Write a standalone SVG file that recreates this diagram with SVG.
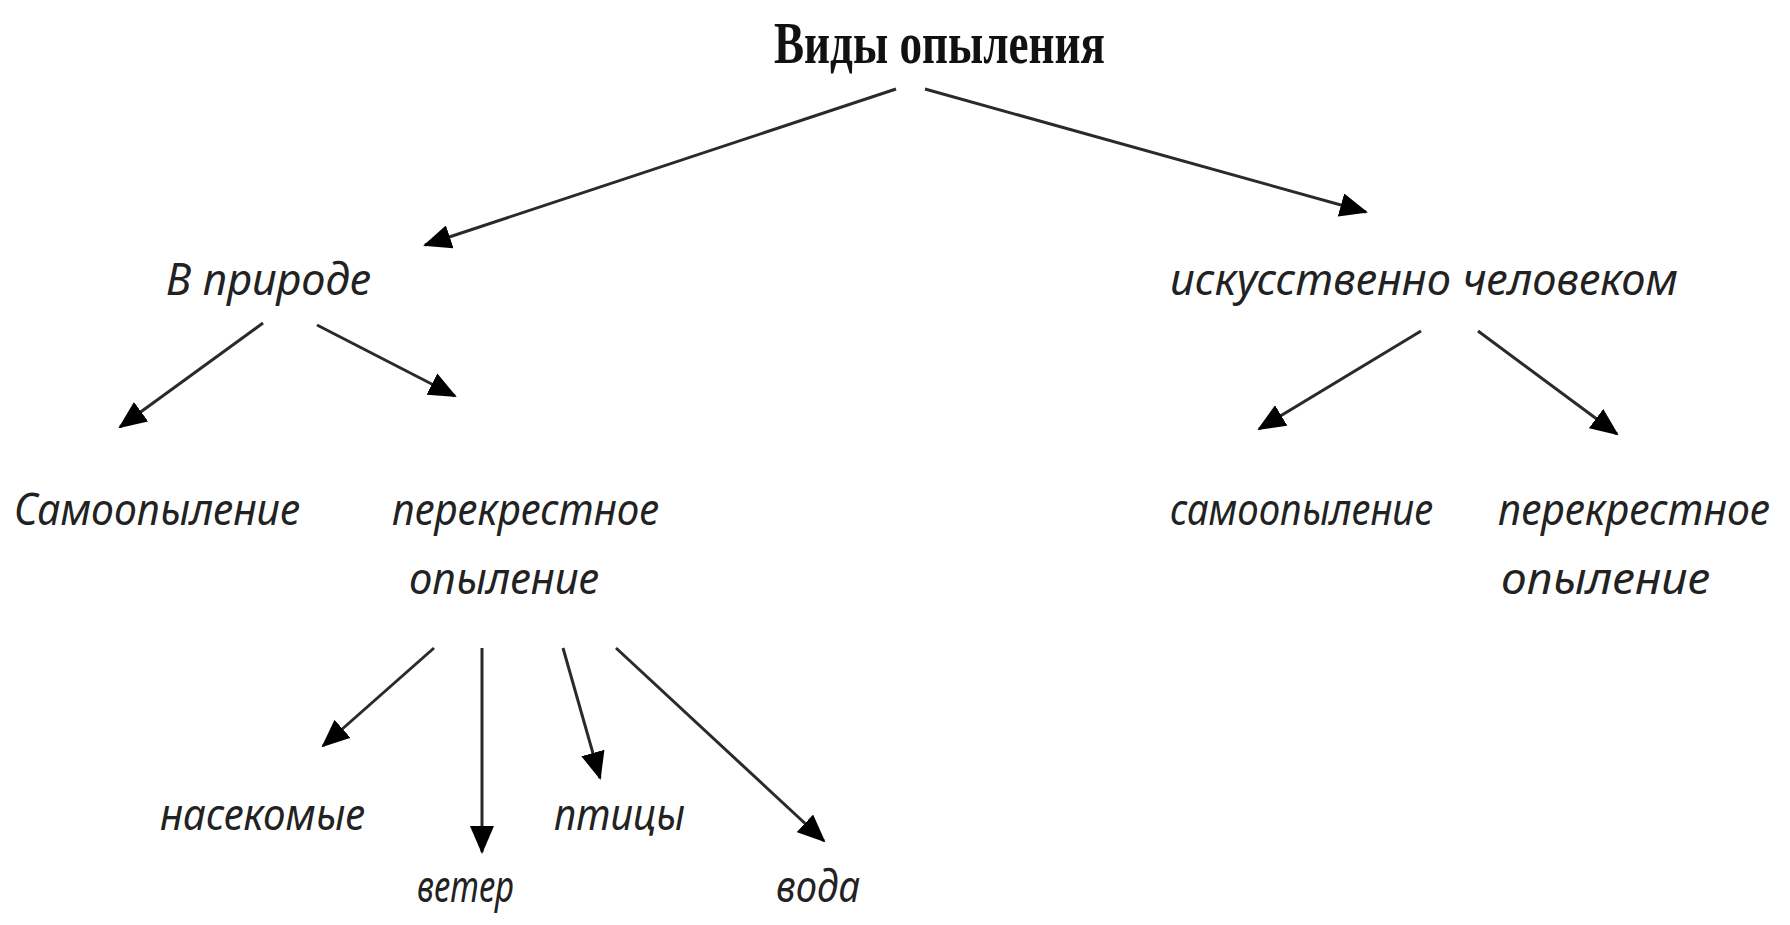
<svg xmlns="http://www.w3.org/2000/svg" width="1790" height="925" viewBox="0 0 1790 925">
<style>
.t{font-family:"Noto Sans","DejaVu Sans",sans-serif;font-style:italic;font-size:44px;fill:#222}
.h{font-family:"Liberation Serif","DejaVu Serif",serif;font-weight:bold;font-size:60px;fill:#111}
.c line{stroke:#2a2a2a;stroke-width:3;marker-end:url(#ah)}
</style>
<defs>
<marker id="ah" markerUnits="userSpaceOnUse" markerWidth="28" markerHeight="24" refX="26" refY="12" orient="auto">
<path d="M0,0 L28,12 L0,24 z" fill="#000"/>
</marker>
</defs>
<rect width="1790" height="925" fill="#fff"/>
<g id="connectors" class="c">
<line x1="896" y1="89" x2="425" y2="245"/>
<line x1="925" y1="89" x2="1366" y2="212"/>
<line x1="263" y1="323" x2="120" y2="427"/>
<line x1="317" y1="325" x2="455" y2="396"/>
<line x1="434" y1="648" x2="323" y2="746"/>
<line x1="482" y1="648" x2="482" y2="852"/>
<line x1="563" y1="648" x2="600" y2="778"/>
<line x1="616" y1="648" x2="824" y2="841"/>
<line x1="1421" y1="331" x2="1259" y2="429"/>
<line x1="1478" y1="331" x2="1617" y2="434"/>
</g>
<g id="root"><text class="h" x="774" y="63" textLength="331" lengthAdjust="spacingAndGlyphs">Виды опыления</text></g>
<g id="nature"><text class="t" x="166" y="295" textLength="205" lengthAdjust="spacingAndGlyphs">В природе</text></g>
<g id="artificial"><text class="t" x="1170" y="295" textLength="508" lengthAdjust="spacingAndGlyphs">искусственно человеком</text></g>
<g id="self1"><text class="t" x="14" y="525" textLength="286" lengthAdjust="spacingAndGlyphs">Самоопыление</text></g>
<g id="cross1"><text class="t" x="392" y="525" textLength="267" lengthAdjust="spacingAndGlyphs">перекрестное</text><text class="t" x="409" y="594" textLength="190" lengthAdjust="spacingAndGlyphs">опыление</text></g>
<g id="self2"><text class="t" x="1170" y="525" textLength="263" lengthAdjust="spacingAndGlyphs">самоопыление</text></g>
<g id="cross2"><text class="t" x="1498" y="525" textLength="272" lengthAdjust="spacingAndGlyphs">перекрестное</text><text class="t" x="1501" y="594" textLength="209" lengthAdjust="spacingAndGlyphs">опыление</text></g>
<g id="insects"><text class="t" x="160" y="830" textLength="205" lengthAdjust="spacingAndGlyphs">насекомые</text></g>
<g id="wind"><text class="t" x="417" y="902" textLength="97" lengthAdjust="spacingAndGlyphs">ветер</text></g>
<g id="birds"><text class="t" x="554" y="830" textLength="131" lengthAdjust="spacingAndGlyphs">птицы</text></g>
<g id="water"><text class="t" x="776" y="902" textLength="84" lengthAdjust="spacingAndGlyphs">вода</text></g>
</svg>
